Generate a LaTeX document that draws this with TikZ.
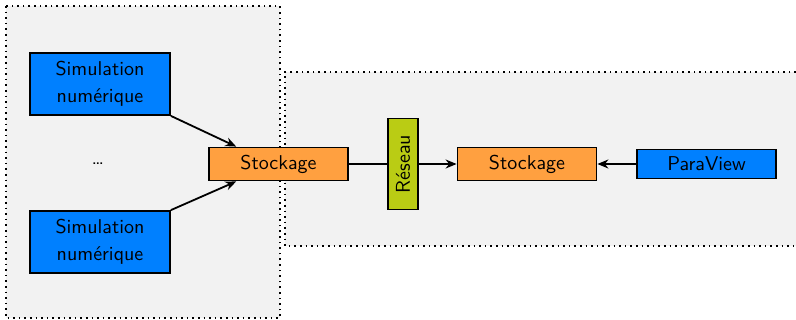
\documentclass[tikz,border=0pt]{standalone}
\usetikzlibrary{arrows.meta,calc}
\renewcommand{\familydefault}{\sfdefault}
\definecolor{simblue}{RGB}{0,128,255}
\definecolor{storeorange}{RGB}{255,160,64}
\definecolor{netgreen}{RGB}{186,204,20}
\definecolor{zonegray}{RGB}{242,242,242}
\begin{document}
\begin{tikzpicture}[x=0.5pt,y=-0.5pt,
  box/.style={draw=black,line width=0.9pt,inner sep=0pt,align=center},
  simbox/.style={box,fill=simblue,minimum width=70pt,minimum height=31pt},
  storebox/.style={box,fill=storeorange,minimum width=69.5pt,minimum height=16.5pt},
  netbox/.style={box,fill=netgreen,minimum width=45.5pt,minimum height=15pt,rotate=90},
  viewbox/.style={box,fill=simblue,minimum width=69.5pt,minimum height=14.5pt},
  zone/.style={line width=0.8pt,dotted},
  link/.style={line width=0.9pt},
  flow/.style={link,-{Stealth[length=5.5pt,width=4.5pt]}}]
\useasboundingbox (0,0) rectangle (796,320);
% remote zone (extends to the right edge)
\fill[zonegray] (285,72) rectangle (796,246);
\draw[zone] (796,72) -- (285,72) -- (285,246) -- (796,246);
% compute zone
\fill[zonegray] (6,6) rectangle (280,318);
\draw[zone] (6,6) rectangle (280,318);
% nodes
\node[simbox] (sim1) at (100,84) {Simulation\\[1.5pt]numérique};
\node (dots) at (98,164) {\dots};
\node[simbox] (sim2) at (100,242) {Simulation\\[1.5pt]numérique};
\node[storebox] (st1) at (278.5,164) {Stockage};
\node[netbox] (net) at (403,164) {Réseau};
\node[storebox] (st2) at (527,164) {Stockage};
\node[viewbox] (pv) at (706.5,164) {ParaView};
% connectors
\draw[flow] (sim1.south east) -- ($(st1.north west)!0.2!(st1.north east)$);
\draw[flow] (sim2.north east) -- ($(st1.south west)!0.2!(st1.south east)$);
\draw[link] (st1.east) -- (net.north);
\draw[flow] (net.south) -- (st2.west);
\draw[flow] (pv.west) -- (st2.east);
\end{tikzpicture}
\end{document}
